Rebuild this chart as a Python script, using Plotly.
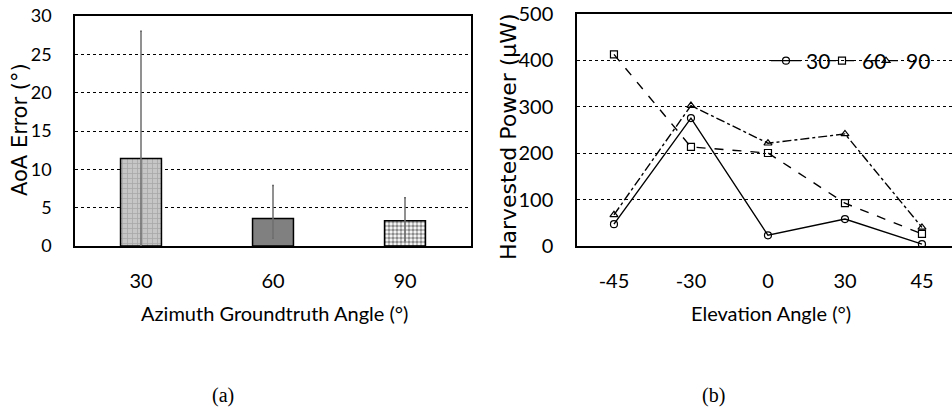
import plotly.graph_objects as go

# ---- data (a) ----
azimuth_cats = ["30", "60", "90"]
aoa_error = [11.4, 3.6, 3.3]
aoa_err_plus = [16.6, 4.3, 3.0]
aoa_err_minus = [11.4, 2.6, 2.6]

# ---- data (b) ----
elev_cats = ["-45", "-30", "0", "30", "45"]
power_30 = [47, 275, 23, 58, 4]
power_60 = [412, 213, 200, 92, 26]
power_90 = [67, 302, 221, 241, 40]
series_names = ["30", "60", "90"]

W, H = 952, 412
TICKFONT = "Lato, Roboto, sans-serif"
TITLEFONT = "DejaVu Sans, Liberation Sans, sans-serif"
CAPFONT = "Liberation Serif, Times New Roman, serif"

def px(x):
    return x / W

def py(y):
    return 1 - y / H

fig = go.Figure()

bar_patterns = [
    dict(shape="+", fgcolor="#8a8a8a", bgcolor="#c6c6c6", size=5, solidity=0.3, fillmode="overlay"),
    dict(shape="", fgcolor="#808080", bgcolor="#808080", fillmode="overlay"),
    dict(shape=".", fgcolor="#1a1a1a", bgcolor="#ffffff", size=4, solidity=0.6, fillmode="overlay"),
]
bar_colors = ["#c6c6c6", "#808080", "#ffffff"]

for i, cat in enumerate(azimuth_cats):
    fig.add_trace(go.Bar(
        x=[cat], y=[aoa_error[i]],
        marker=dict(color=bar_colors[i], line=dict(color="black", width=1.5), pattern=bar_patterns[i]),
        error_y=dict(type="data", symmetric=False, array=[aoa_err_plus[i]], arrayminus=[aoa_err_minus[i]],
                     color="#6e6e6e", thickness=1.5, width=1),
        width=0.31, showlegend=False, xaxis="x", yaxis="y",
    ))

line_styles = [
    dict(dash="solid", symbol="circle-open"),
    dict(dash="dash", symbol="square-open"),
    dict(dash="dashdot", symbol="triangle-up-open"),
]
legend_ids = ["legend", "legend2", "legend3"]
for name, vals, st, lg in zip(series_names, [power_30, power_60, power_90], line_styles, legend_ids):
    fig.add_trace(go.Scatter(
        x=elev_cats, y=vals, name=name, mode="lines+markers",
        line=dict(color="black", width=1.4, dash=st["dash"]),
        marker=dict(symbol=st["symbol"], size=7, color="black", line=dict(width=1.2)),
        xaxis="x2", yaxis="y2", legend=lg,
    ))

common_grid = dict(showgrid=True, gridcolor="black", griddash="dot", gridwidth=1)

def legend_at(xpage):
    return dict(orientation="h", x=px(xpage), y=py(61), xanchor="left", yanchor="middle",
                bgcolor="rgba(0,0,0,0)", font=dict(family=TICKFONT, size=21, color="black"),
                itemwidth=30)

fig.update_layout(
    width=W, height=H,
    margin=dict(l=0, r=0, t=0, b=0, autoexpand=False),
    plot_bgcolor="white", paper_bgcolor="white",
    xaxis=dict(domain=[px(75), px(471)], type="category", range=[-0.5, 2.5],
               showline=True, linecolor="black", linewidth=2, mirror=True,
               showgrid=False, ticks="", ticklabelstandoff=16,
               tickfont=dict(family=TICKFONT, size=20, color="black"), automargin=False),
    yaxis=dict(domain=[py(246), py(16)], range=[0, 30], dtick=5,
               showline=True, linecolor="black", linewidth=1.5, mirror=True,
               ticks="", ticklabelstandoff=18, zeroline=False, ticklabeloverflow="allow",
               tickfont=dict(family=TICKFONT, size=18, color="black"), automargin=False,
               **common_grid),
    xaxis2=dict(domain=[px(577), 1.0], type="category", range=[-0.48, 4.39],
                showline=True, linecolor="black", linewidth=2, mirror=True,
                showgrid=False, ticks="", ticklabelstandoff=16,
                tickfont=dict(family=TICKFONT, size=20, color="black"), automargin=False,
                anchor="y2"),
    yaxis2=dict(domain=[py(246), py(13.5)], range=[0, 500], dtick=100,
                showline=True, linecolor="black", linewidth=1.5, mirror=False,
                ticks="", ticklabelstandoff=18, zeroline=False, ticklabeloverflow="allow",
                tickfont=dict(family=TICKFONT, size=20, color="black"), automargin=False,
                anchor="x2", **common_grid),
    legend=legend_at(766),
    legend2=legend_at(822),
    legend3=legend_at(866),
    annotations=[
        dict(text="AoA Error (°)", x=px(20), y=py(130), xref="paper", yref="paper",
             xanchor="center", yanchor="middle",
             textangle=-90, showarrow=False, font=dict(family=TITLEFONT, size=21, color="black")),
        dict(text="Harvested Power (µW)", x=px(509), y=py(137), xref="paper", yref="paper",
             xanchor="center", yanchor="middle",
             textangle=-90, showarrow=False, font=dict(family=TITLEFONT, size=22, color="black")),
        dict(text="Azimuth Groundtruth Angle (°)", x=px(274), y=py(313), xref="paper", yref="paper",
             xanchor="center", yanchor="middle",
             showarrow=False, font=dict(family=TICKFONT, size=20, color="black")),
        dict(text="Elevation Angle (°)", x=px(771), y=py(313), xref="paper", yref="paper",
             xanchor="center", yanchor="middle",
             showarrow=False, font=dict(family=TICKFONT, size=20, color="black")),
        dict(text="(a)", x=px(223), y=py(395), xref="paper", yref="paper",
             xanchor="center", yanchor="middle",
             showarrow=False, font=dict(family=CAPFONT, size=20, color="black")),
        dict(text="(b)", x=px(713), y=py(395), xref="paper", yref="paper",
             xanchor="center", yanchor="middle",
             showarrow=False, font=dict(family=CAPFONT, size=20, color="black")),
    ],
)

# remove the browser's default 8px page margin so the figure fills the window exactly
fig.write_html("out.html", config={"displayModeBar": False},
               post_script="document.body.style.margin='0';")
